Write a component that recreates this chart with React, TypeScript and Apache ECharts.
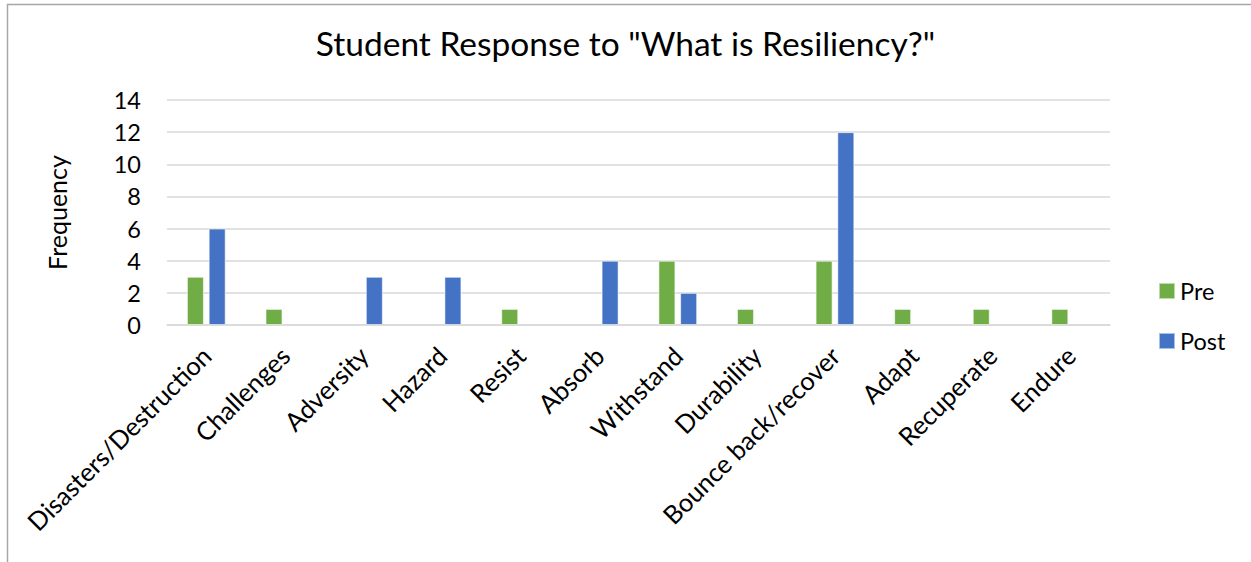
import React, { useEffect, useRef } from "react";
import * as echarts from "echarts";

const categories = [
  "Disasters/Destruction",
  "Challenges",
  "Adversity",
  "Hazard",
  "Resist",
  "Absorb",
  "Withstand",
  "Durability",
  "Bounce back/recover",
  "Adapt",
  "Recuperate",
  "Endure",
];
const preValues = [3, 1, 0, 0, 1, 0, 4, 1, 4, 1, 1, 1];
const postValues = [6, 0, 3, 3, 0, 4, 2, 0, 12, 0, 0, 0];

const FONT = "Lato, 'Open Sans', sans-serif";

// zero-height bars get no outline so they stay invisible
const toBarData = (vals: number[]) =>
  vals.map((v) => (v === 0 ? { value: v, itemStyle: { borderWidth: 0 } } : { value: v }));

export default function App() {
  const ref = useRef<HTMLDivElement>(null);

  useEffect(() => {
    document.body.style.margin = "0";
    const chart = echarts.init(ref.current!, undefined, { renderer: "svg" });
    chart.setOption({
      animation: false,
      backgroundColor: "#fff",
      textStyle: { fontFamily: FONT },
      title: {
        text: 'Student Response to "What is Resiliency?"',
        left: "center",
        top: 21,
        textStyle: { fontFamily: FONT, fontSize: 33.5, fontWeight: "normal", color: "#000" },
      },
      legend: {
        orient: "vertical",
        left: 1153,
        top: 274,
        itemWidth: 16,
        itemHeight: 16,
        itemGap: 26,
        icon: "rect",
        textStyle: { fontFamily: FONT, fontSize: 23.5, color: "#000" },
        data: ["Pre", "Post"],
      },
      grid: { left: 167, right: 141, top: 100, bottom: 237, containLabel: false },
      xAxis: {
        type: "category",
        data: categories,
        axisLine: { show: true, lineStyle: { color: "#d9d9d9", width: 1.5 } },
        axisTick: { show: false },
        axisLabel: {
          rotate: 45,
          interval: 0,
          margin: 26,
          fontFamily: FONT,
          fontSize: 25.5,
          color: "#000",
        },
      },
      yAxis: {
        type: "value",
        min: 0,
        max: 14,
        interval: 2,
        name: "Frequency",
        nameLocation: "middle",
        nameGap: 98,
        nameRotate: 90,
        nameTextStyle: { fontFamily: FONT, fontSize: 25, color: "#000" },
        axisLine: { show: false },
        axisTick: { show: false },
        axisLabel: { margin: 26, fontFamily: FONT, fontSize: 23.5, color: "#000" },
        splitLine: { lineStyle: { color: "#d9d9d9", width: 1.5 } },
      },
      series: [
        {
          name: "Pre",
          type: "bar",
          data: toBarData(preValues),
          barWidth: 17,
          barGap: "28%",
          itemStyle: { color: "#70ad47", borderColor: "rgba(255,255,255,0.55)", borderWidth: 1 },
        },
        {
          name: "Post",
          type: "bar",
          data: toBarData(postValues),
          barWidth: 17,
          barGap: "28%",
          itemStyle: { color: "#4472c4", borderColor: "rgba(255,255,255,0.55)", borderWidth: 1 },
        },
      ],
      graphic: [
        {
          type: "polyline",
          silent: true,
          shape: { points: [[7.5, 562], [7.5, 4.5], [1251, 4.5]] },
          style: { stroke: "#a6a6a6", lineWidth: 1.5, fill: null },
        },
      ],
    });
    return () => chart.dispose();
  }, []);

  return (
    <div
      ref={ref}
      style={{ position: "absolute", left: 0, top: 0, width: 1251, height: 562 }}
    />
  );
}
